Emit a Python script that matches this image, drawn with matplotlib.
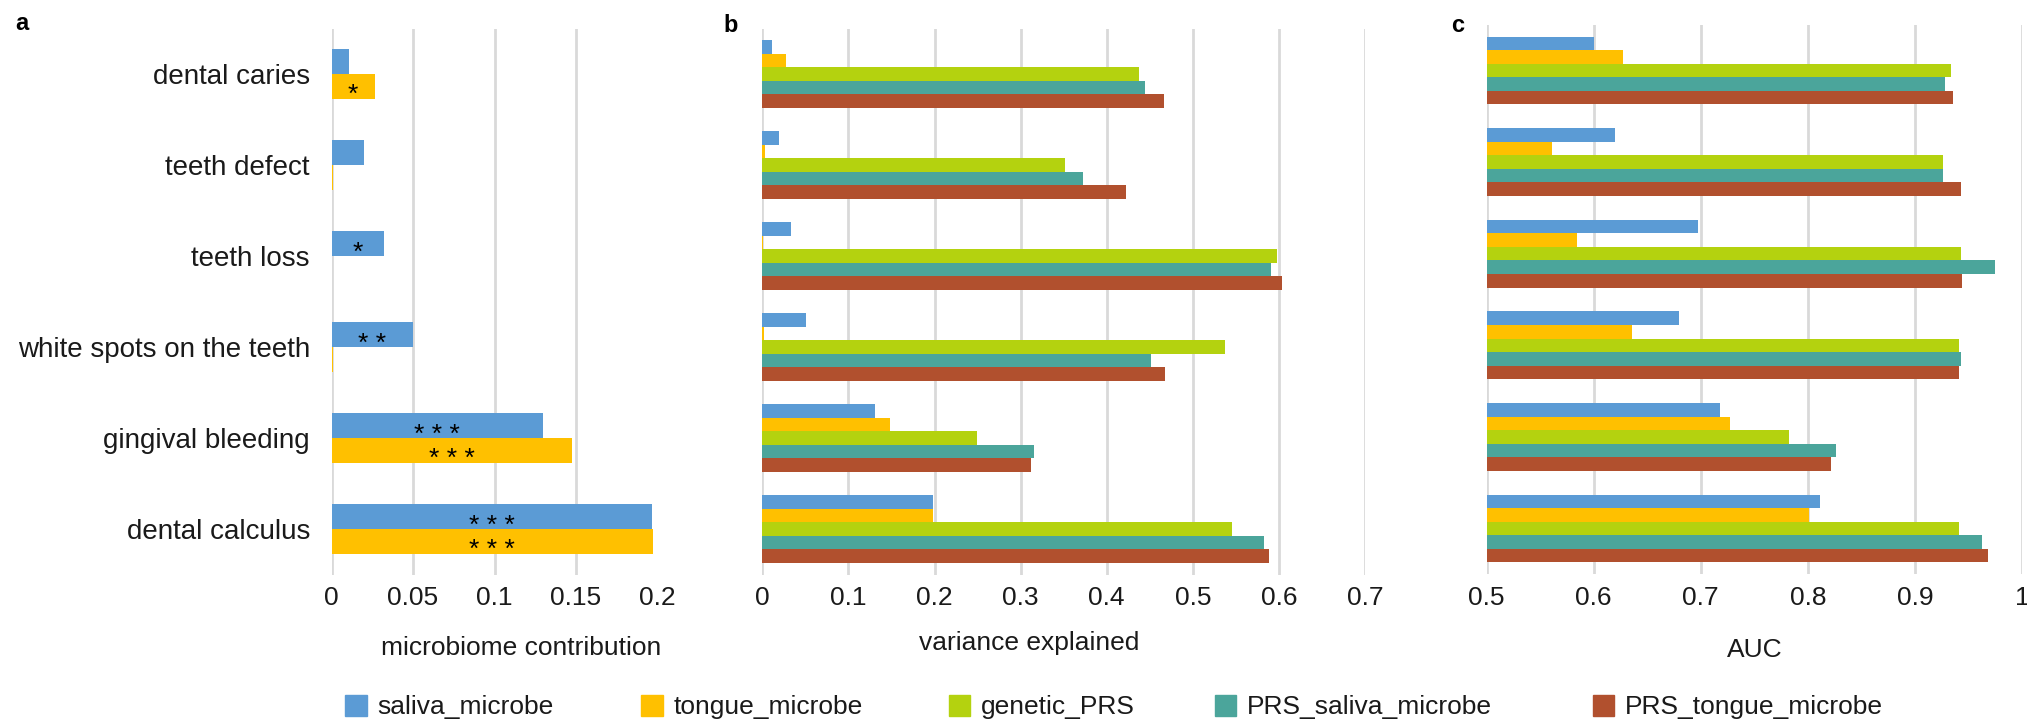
import matplotlib
matplotlib.use("Agg")
import matplotlib.pyplot as plt
from matplotlib.patches import Patch
import numpy as np

plt.rcParams['font.family'] = ['Liberation Sans', 'DejaVu Sans']

# ---------------- data ----------------
categories = ["dental caries", "teeth defect", "teeth loss",
              "white spots on the teeth", "gingival bleeding", "dental calculus"]
series_names = ["saliva_microbe", "tongue_microbe", "genetic_PRS",
                "PRS_saliva_microbe", "PRS_tongue_microbe"]
series_colors = ["#5B9BD5", "#FFC000", "#B4D20F", "#4BA59B", "#B1502E"]

# panel a: microbiome contribution
contrib_saliva = [0.0107, 0.0197, 0.0324, 0.0500, 0.1299, 0.1967]
contrib_tongue = [0.0265, 0.0012, 0.0, 0.0012, 0.1474, 0.1973]
stars_saliva = ["", "", "*", "* *", "* * *", "* * *"]
stars_tongue = ["*", "", "", "", "* * *", "* * *"]

# panel b: variance explained
var_saliva = [0.0114, 0.0196, 0.0331, 0.0507, 0.1306, 0.1980]
var_tongue = [0.0274, 0.0030, 0.0010, 0.0020, 0.1480, 0.1985]
var_genetic = [0.437, 0.352, 0.598, 0.537, 0.249, 0.545]
var_prs_saliva = [0.444, 0.372, 0.591, 0.451, 0.315, 0.5825]
var_prs_tongue = [0.4665, 0.422, 0.604, 0.4675, 0.3115, 0.588]

# panel c: AUC
auc_saliva = [0.600, 0.620, 0.697, 0.680, 0.718, 0.811]
auc_tongue = [0.627, 0.561, 0.584, 0.636, 0.7275, 0.801]
auc_genetic = [0.934, 0.926, 0.943, 0.941, 0.782, 0.9415]
auc_prs_saliva = [0.9285, 0.926, 0.975, 0.943, 0.8266, 0.963]
auc_prs_tongue = [0.936, 0.943, 0.9436, 0.9415, 0.822, 0.968]

ticks_a = [0, 0.05, 0.1, 0.15, 0.2]
ticklabels_a = ["0", "0.05", "0.1", "0.15", "0.2"]
ticks_b = [0, 0.1, 0.2, 0.3, 0.4, 0.5, 0.6, 0.7]
ticklabels_b = ["0", "0.1", "0.2", "0.3", "0.4", "0.5", "0.6", "0.7"]
ticks_c = [0.5, 0.6, 0.7, 0.8, 0.9, 1.0]
ticklabels_c = ["0.5", "0.6", "0.7", "0.8", "0.9", "1"]

# ---------------- layout ----------------
W, H = 2027, 719
fig = plt.figure(figsize=(W / 100, H / 100), dpi=100)
FS = 19
GRID = "#d9d9d9"
TXT = "#1a1a1a"


def px_axes(l, t, r, b):
    return fig.add_axes([l / W, 1 - b / H, (r - l) / W, (b - t) / H])


def style(ax, ticks, labels, lim):
    ax.set_xlim(*lim)
    ax.set_ylim(len(categories) - 0.5, -0.5)
    ax.set_xticks(ticks)
    ax.set_xticklabels(labels, fontsize=FS)
    ax.grid(axis="x", color=GRID, linewidth=2.0)
    ax.set_axisbelow(True)
    for s in ax.spines.values():
        s.set_visible(False)
    ax.tick_params(axis="x", length=0, pad=8.5, colors=TXT)
    ax.tick_params(axis="y", length=0)


y = np.arange(len(categories))

# panel a
axa = px_axes(331.5, 28.5, 657.5, 574.5)
ha = 0.27
axa.barh(y - ha / 2, contrib_saliva, height=ha, color=series_colors[0])
axa.barh(y + ha / 2, contrib_tongue, height=ha, color=series_colors[1])
style(axa, ticks_a, ticklabels_a, (0, 0.2))
axa.set_yticks(y)
axa.set_yticklabels(categories, fontsize=20)
axa.tick_params(axis="y", pad=15.5, colors=TXT)
for i in range(len(categories)):
    for vals, st, off in ((contrib_saliva, stars_saliva, -ha / 2),
                          (contrib_tongue, stars_tongue, ha / 2)):
        if st[i]:
            axa.annotate(st[i], xy=(vals[i] / 2, y[i] + off), xytext=(0, -11.5),
                         textcoords="offset points", ha="center", va="baseline",
                         fontsize=19, color="black")

# panels b and c
hb = 0.148
offsets = (np.arange(5) - 2) * hb
axb = px_axes(762.4, 28.5, 1365.0, 574.5)
for k, vals in enumerate([var_saliva, var_tongue, var_genetic, var_prs_saliva, var_prs_tongue]):
    axb.barh(y + offsets[k], vals, height=hb, color=series_colors[k])
style(axb, ticks_b, ticklabels_b, (0, 0.7))
axb.set_yticks([])

axc = px_axes(1486.6, 24.7, 2022.0, 574.3)
for k, vals in enumerate([auc_saliva, auc_tongue, auc_genetic, auc_prs_saliva, auc_prs_tongue]):
    axc.barh(y + offsets[k], vals, height=hb, color=series_colors[k])
style(axc, ticks_c, ticklabels_c, (0.5, 1.0))
axc.set_yticks([])

# axis titles
for ax, xc, base, txt in ((axa, 520.7, 655, "microbiome contribution"),
                          (axb, 1029.6, 650, "variance explained"),
                          (axc, 1754.5, 657, "AUC")):
    fig.text(xc / W, 1 - base / H, txt, ha="center", va="baseline",
             fontsize=FS, color=TXT)

# panel letters
for x0, base, letter in ((15, 30, "a"), (723, 32, "b"), (1451, 32, "c")):
    fig.text(x0 / W, 1 - base / H, letter, ha="left", va="baseline",
             fontsize=17, fontweight="bold")

# legend (one entry per position, as in the original)
leg_x = [345.0, 641.0, 948.7, 1214.6, 1592.8]
fs_px = FS * 100 / 72
for k, name in enumerate(series_names):
    lg = fig.legend(handles=[Patch(color=series_colors[k])], labels=[name],
                    loc="center left", bbox_to_anchor=(leg_x[k] / W, 1 - 707 / H),
                    frameon=False, borderpad=0, borderaxespad=0,
                    handlelength=21.5 / fs_px, handleheight=22 / fs_px,
                    handletextpad=11 / fs_px, fontsize=FS)
    for t in lg.get_texts():
        t.set_color(TXT)

fig.savefig("out.png", dpi=100)
